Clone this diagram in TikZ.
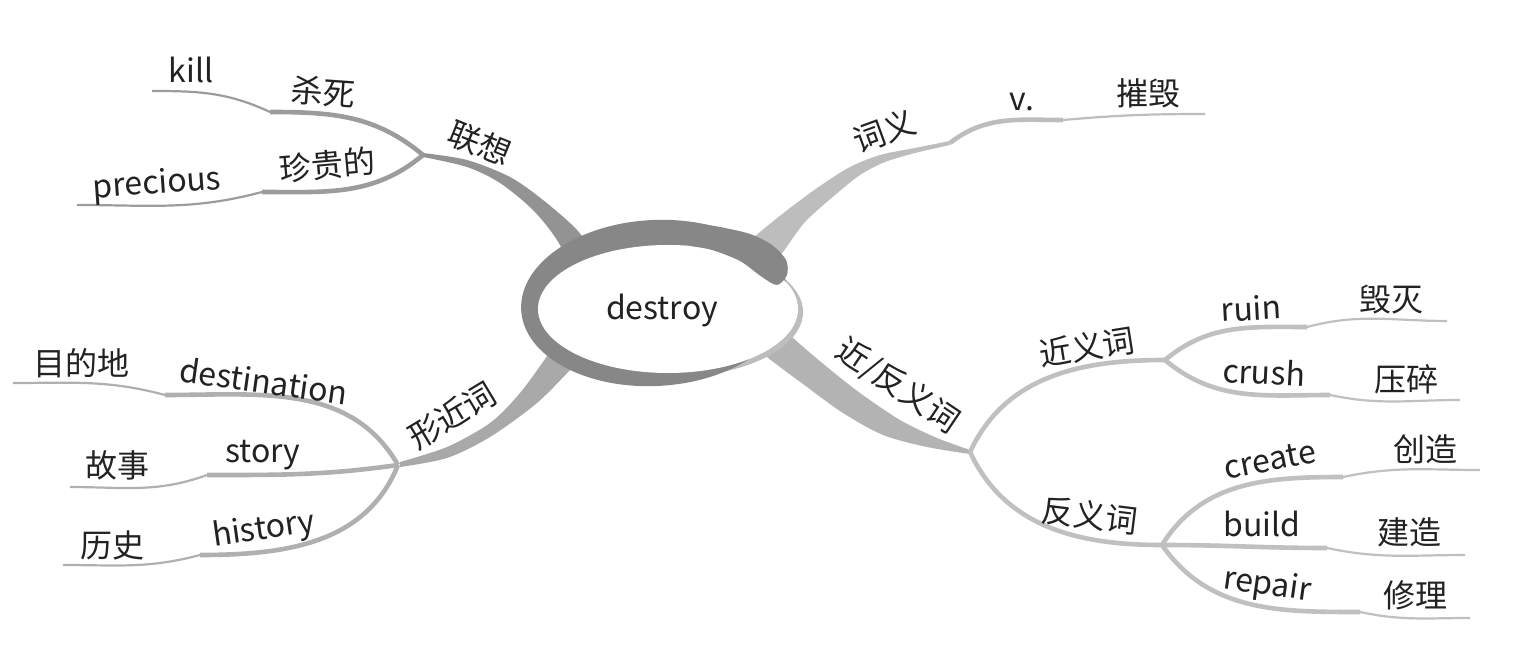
\documentclass[tikz,border=0pt]{standalone}
\usepackage{fontspec}
\setmainfont{Noto Sans CJK SC}
\definecolor{ringc}{HTML}{878787}
\definecolor{rimc}{HTML}{BDBDBD}
\definecolor{gA}{HTML}{939393}
\definecolor{gAs}{HTML}{9C9C9C}
\definecolor{gB}{HTML}{BDBDBD}
\definecolor{gC}{HTML}{A9A9A9}
\definecolor{gCs}{HTML}{B0B0B0}
\definecolor{gD}{HTML}{B3B3B3}
\definecolor{gDs}{HTML}{C0C0C0}
\definecolor{txt}{HTML}{222222}
\begin{document}
\begin{tikzpicture}[x=0.5pt,y=0.5pt,
  lbl/.style={font=\fontsize{16pt}{16pt}\selectfont, text=txt, inner sep=0pt},
  subA/.style={draw=#1, line width=2.3pt},
  subB/.style={draw=#1, line width=1.1pt}]
\useasboundingbox (0,0) rectangle (1514,-657);
\fill[white] (0,0) rectangle (1514,-657);

% hubs and line ends
\coordinate (hubL) at (423,-155);
\coordinate (kKill) at (270,-112); \coordinate (eKill) at (152,-91);
\coordinate (kPre) at (262,-192); \coordinate (ePre) at (77,-205);
\coordinate (hubR1) at (950,-143);
\coordinate (kV) at (1063,-120); \coordinate (eV) at (1205,-114);
\coordinate (hubF) at (398,-465);
\coordinate (kDest) at (165,-395); \coordinate (eDest) at (13,-383);
\coordinate (kStory) at (207,-475); \coordinate (eStory) at (70,-487);
\coordinate (kHist) at (200,-555); \coordinate (eHist) at (63,-565);
\coordinate (hubR2) at (970,-452);
\coordinate (hubSyn) at (1165,-360); \coordinate (hubAnt) at (1162,-545);
\coordinate (kRuin) at (1307,-327); \coordinate (eRuin) at (1447,-321);
\coordinate (kCrush) at (1330,-395); \coordinate (eCrush) at (1460,-400);
\coordinate (kCreate) at (1343,-477); \coordinate (eCreate) at (1480,-470);
\coordinate (kBuild) at (1327,-548); \coordinate (eBuild) at (1465,-555);
\coordinate (kRep) at (1360,-612); \coordinate (eRep) at (1470,-618);

% thick main branches
\fill[gA] plot[smooth] coordinates {(600,-262) (577,-230) (543,-200) (510,-177) (467,-160) (423,-153)}
  -- plot[smooth] coordinates {(423,-157) (467,-167) (500,-183) (533,-210) (557,-240) (575,-275)} -- cycle;
\fill[gB] plot[smooth] coordinates {(740,-250) (760,-232) (790,-208) (820,-186) (850,-167) (880,-155) (915,-148) (950,-141)}
  -- plot[smooth] coordinates {(950,-145) (915,-153) (885,-162) (860,-175) (835,-195) (805,-222) (783,-252) (765,-275)} -- cycle;
\fill[gC] plot[smooth] coordinates {(565,-330) (550,-352) (520,-393) (490,-423) (447,-447) (400,-462)}
  -- plot[smooth] coordinates {(400,-467) (447,-458) (490,-437) (537,-403) (573,-367) (595,-345)} -- cycle;
\fill[gD] plot[smooth] coordinates {(775,-320) (793,-338) (827,-367) (860,-393) (900,-420) (937,-438) (970,-450)}
  -- plot[smooth] coordinates {(970,-454) (927,-447) (883,-435) (843,-413) (807,-387) (767,-357) (750,-340)} -- cycle;

% sub branches
\draw[subA=gAs] (hubL) to[out=140,in=0] (kKill);
\draw[subB=gAs] (kKill) to[out=155,in=0] (eKill);
\draw[subA=gAs] (hubL) to[out=-140,in=0] (kPre);
\draw[subB=gAs] (kPre) to[out=-165,in=0] (ePre);

\draw[subA=gB] (hubR1) to[out=38,in=180] (kV);
\draw[subB=gB] (kV) to[out=5,in=180] (eV);

\draw[subA=gCs] (hubF) to[out=120,in=0] (kDest);
\draw[subB=gCs] (kDest) to[out=165,in=0] (eDest);
\draw[subA=gCs] (hubF) to[out=-172,in=0] (kStory);
\draw[subB=gCs] (kStory) to[out=-160,in=0] (eStory);
\draw[subA=gCs] (hubF) to[out=-112,in=0] (kHist);
\draw[subB=gCs] (kHist) to[out=-165,in=0] (eHist);

\draw[subA=gDs] (hubR2) to[out=65,in=180] (hubSyn);
\draw[subA=gDs] (hubR2) to[out=-65,in=180] (hubAnt);
\draw[subA=gDs] (hubSyn) to[out=40,in=180] (kRuin);
\draw[subB=gDs] (kRuin) to[out=15,in=180] (eRuin);
\draw[subA=gDs] (hubSyn) to[out=-40,in=180] (kCrush);
\draw[subB=gDs] (kCrush) to[out=-12,in=180] (eCrush);
\draw[subA=gDs] (hubAnt) to[out=58,in=180] (kCreate);
\draw[subB=gDs] (kCreate) to[out=12,in=180] (eCreate);
\draw[subA=gDs] (hubAnt) to[out=0,in=180] (kBuild);
\draw[subB=gDs] (kBuild) to[out=-12,in=180] (eBuild);
\draw[subA=gDs] (hubAnt) to[out=-55,in=180] (kRep);
\draw[subB=gDs] (kRep) to[out=-12,in=180] (eRep);

% central ellipse
\fill[rimc] (672,-312) ellipse [x radius=65.5pt, y radius=32.5pt];
\fill[ringc, rotate around={3:(655,-303)}] (655,-303) ellipse [x radius=67pt, y radius=41.5pt];
\fill[white] (668,-309) ellipse [x radius=65pt, y radius=32pt];
\fill[ringc] (690,-246) -- plot[smooth] coordinates {(690,-222) (720,-227) (750,-234) (772,-245) (786,-260) (787,-275) (777,-285) (762,-277) (740,-261) (712,-250) (690,-246)} -- cycle;

% labels
\node[lbl] (center) at (662,-311) {destroy};
\node[lbl, rotate=-22] (tLX) at (480,-143) {联想};
\node[lbl, rotate=-4] (tSS) at (323,-92) {杀死};
\node[lbl] (tKill) at (191,-70) {kill};
\node[lbl, rotate=5] (tZG) at (327,-165) {珍贵的};
\node[lbl, rotate=4] (tPre) at (157,-185) {precious};
\node[lbl, rotate=20] (tCY) at (884,-131) {词义};
\node[lbl] (tV) at (1022,-102) {v.};
\node[lbl] (tCH) at (1148,-93) {摧毁};
\node[lbl, rotate=31] (tXJ) at (452,-415) {形近词};
\node[lbl] (tMD) at (81,-363) {目的地};
\node[lbl, rotate=-8] (tDest) at (264,-381) {destination};
\node[lbl] (tStory) at (263,-455) {story};
\node[lbl] (tGS) at (117,-465) {故事};
\node[lbl, rotate=8] (tHist) at (264,-530) {history};
\node[lbl] (tLS) at (112,-545) {历史};
\node[lbl, rotate=-34] (tJF) at (898,-386) {近/反义词};
\node[lbl, rotate=9] (tJY) at (1087,-347) {近义词};
\node[lbl, rotate=3] (tRuin) at (1251,-308) {ruin};
\node[lbl] (tHM) at (1391,-300) {毁灭};
\node[lbl, rotate=-3] (tCrush) at (1264,-372) {crush};
\node[lbl] (tYS) at (1406,-379) {压碎};
\node[lbl, rotate=-7] (tFY) at (1090,-515) {反义词};
\node[lbl, rotate=11] (tCreate) at (1270,-460) {create};
\node[lbl] (tCZ) at (1425,-449) {创造};
\node[lbl] (tBuild) at (1262,-524) {build};
\node[lbl] (tJZ) at (1409,-532) {建造};
\node[lbl, rotate=-8] (tRep) at (1267,-586) {repair};
\node[lbl] (tXL) at (1415,-595) {修理};
\end{tikzpicture}
\end{document}
